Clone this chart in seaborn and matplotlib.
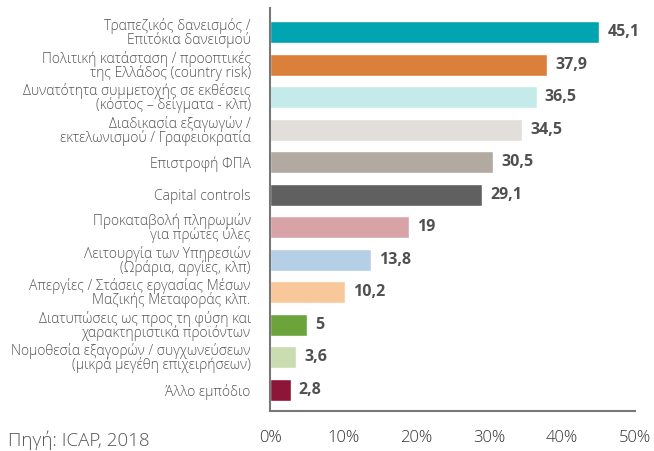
import matplotlib
matplotlib.use('Agg')
import matplotlib.pyplot as plt
import seaborn as sns
import pandas as pd

# Data
categories = [
    'Τραπεζικός δανεισμός /\nΕπιτόκια δανεισμού',
    'Πολιτική κατάσταση / προοπτικές\nτης Ελλάδος (country risk)',
    'Δυνατότητα συμμετοχής σε εκθέσεις\n(κόστος – δείγματα - κλπ)',
    'Διαδικασία εξαγωγών /\nεκτελωνισμού / Γραφειοκρατία',
    'Επιστροφή ΦΠΑ',
    'Capital controls',
    'Προκαταβολή πληρωμών\nγια πρώτες ύλες',
    'Λειτουργία των Υπηρεσιών\n(Ωράρια, αργίες, κλπ)',
    'Απεργίες / Στάσεις εργασίας Μέσων\nΜαζικής Μεταφοράς κλπ.',
    'Διατυπώσεις ως προς τη φύση και\nχαρακτηριστικά προϊόντων',
    'Νομοθεσία εξαγορών / συγχωνεύσεων\n(μικρά μεγέθη επιχειρήσεων)',
    'Άλλο εμπόδιο',
]
values = [45.1, 37.9, 36.5, 34.5, 30.5, 29.1, 19, 13.8, 10.2, 5, 3.6, 2.8]
colors = ['#00A3B0', '#DB803A', '#C4EAEA', '#E2DEDA', '#B2AAA0', '#606060',
          '#D8A3A6', '#B5D0E6', '#F8C89B', '#6BA43A', '#C9DDB0', '#8C1538']
xticks = [0, 10, 20, 30, 40, 50]

df = pd.DataFrame({'cat': categories, 'val': values})

sns.set_style('white')
plt.rcParams['font.family'] = ['Open Sans', 'DejaVu Sans']

fig = plt.figure(figsize=(6.54, 4.51), dpi=100)
ax = fig.add_axes([0.413, 0.089, 0.558, 0.893])

sns.barplot(data=df, x='val', y='cat', hue='cat', palette=colors, saturation=1,
            legend=False, width=0.68, orient='h', ax=ax)

for cont in ax.containers:
    ax.bar_label(cont, labels=[f'{v:g}'.replace('.', ',') for v in cont.datavalues],
                 padding=6, fontsize=11.5, fontweight='bold', color='#505050')

ax.set_xlim(0, 50)
ax.set_ylim(11.65, -0.74)
ax.set_xticks(xticks)
ax.set_xticklabels([f'{t}%' for t in xticks], fontsize=12, color='#333333', fontweight='light')
ax.set_xlabel('')
ax.set_ylabel('')
ax.tick_params(axis='y', length=0, pad=14, labelsize=10, labelcolor='#555555')
ax.tick_params(axis='x', direction='in', length=5, width=1.2, color='#666666', pad=14)
for lbl in ax.get_yticklabels():
    lbl.set_linespacing(0.84)
    lbl.set_fontweight('light')

sns.despine(ax=ax, top=True, right=True)
for side in ['left', 'bottom']:
    ax.spines[side].set_color('#777777')
    ax.spines[side].set_linewidth(1.5)

fig.text(0.012, 0.01, 'Πηγή: ICAP, 2018', fontsize=13.5, color='#555555', fontweight='light')

fig.savefig('out.png', dpi=100)
